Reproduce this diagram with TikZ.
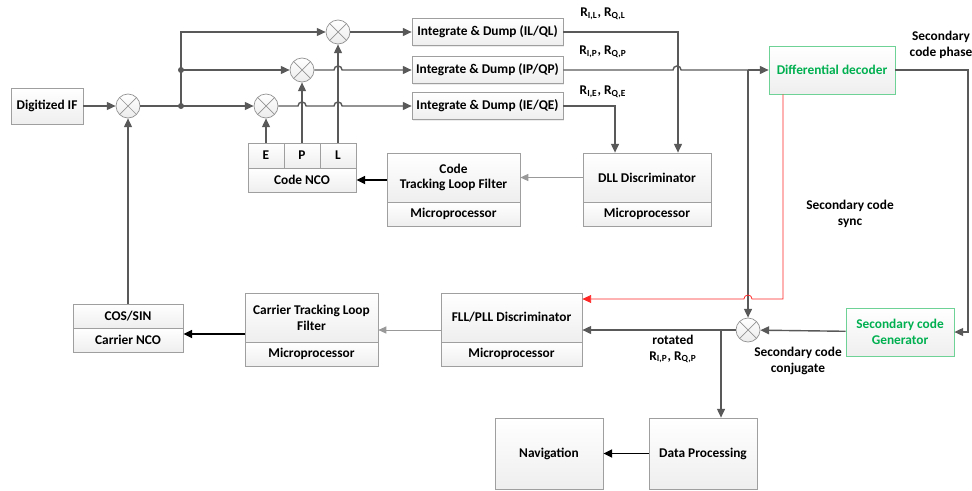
\documentclass[tikz,border=0pt]{standalone}
\usepackage{fontspec}
\setmainfont{Carlito}
\usetikzlibrary{arrows.meta,shadows}
\definecolor{gtext}{RGB}{0,176,80}
\definecolor{gline}{RGB}{110,210,150}
\definecolor{lgray}{RGB}{89,89,89}
\begin{document}
\begin{tikzpicture}[
  x=0.02cm, y=-0.02cm,
  lbl/.style={font=\fontsize{7.6}{9}\selectfont\bfseries, align=center, inner sep=0pt},
  box/.style={lbl, draw=gray!75, top color=white, bottom color=gray!13,
    drop shadow={opacity=0.15, shadow xshift=0.6pt, shadow yshift=-0.6pt}},
  gbox/.style={box, draw=gline, text=gtext},
  mix/.style={circle, draw=gray!85, minimum size=0.48cm, inner sep=0pt,
    top color=white, bottom color=gray!15,
    path picture={\draw[gray!85]
      (path picture bounding box.south west) -- (path picture bounding box.north east)
      (path picture bounding box.north west) -- (path picture bounding box.south east);}},
  arr/.style={-{Triangle[length=5pt, width=4.5pt]}, line width=0.8pt, draw=lgray},
  ln/.style={line width=0.8pt, draw=lgray},
  karr/.style={-{Triangle[length=5pt, width=4.5pt]}, line width=1.1pt, draw=black},
  tarr/.style={-{Triangle[length=4.5pt, width=4pt]}, line width=0.5pt, draw=gray!80, fill=gray!80},
  rarr/.style={-{Triangle[length=5pt, width=4.5pt]}, line width=0.45pt, draw=red!85}
]
\useasboundingbox (0,0) rectangle (972,490);

\node[box, minimum width=1.44cm, minimum height=0.72cm] (dif) at (47,106) {Digitized IF};
\node[mix] (m0) at (128,106) {};
\node[mix] (mL) at (338,32) {};
\node[mix] (mP) at (302,70) {};
\node[mix] (mE) at (266,106) {};

\node[box, minimum width=3.02cm, minimum height=0.54cm] (idL) at (487.5,32) {Integrate \& Dump (IL/QL)};
\node[box, minimum width=3.02cm, minimum height=0.54cm] (idP) at (487.5,70) {Integrate \& Dump (IP/QP)};
\node[box, minimum width=3.02cm, minimum height=0.54cm] (idE) at (487.5,106) {Integrate \& Dump (IE/QE)};

\node[box, minimum width=0.72cm, minimum height=0.5cm] (cE) at (266,155.5) {E};
\node[box, minimum width=0.72cm, minimum height=0.5cm] (cP) at (302,155.5) {P};
\node[box, minimum width=0.72cm, minimum height=0.5cm] (cL) at (338,155.5) {L};
\node[box, minimum width=2.16cm, minimum height=0.48cm] (cnco) at (302,180) {Code NCO};

\node[box, minimum width=2.66cm, minimum height=0.98cm] (cflt) at (453.5,177.5) {Code\\Tracking Loop Filter};
\node[box, minimum width=2.66cm, minimum height=0.48cm] (cfltm) at (453.5,214) {Microprocessor};
\node[box, minimum width=2.56cm, minimum height=0.98cm] (dll) at (647,177.5) {DLL Discriminator};
\node[box, minimum width=2.56cm, minimum height=0.48cm] (dllm) at (647,214) {Microprocessor};

\node[gbox, minimum width=2.52cm, minimum height=0.96cm] (ddec) at (832,70) {Differential decoder};
\node[gbox, minimum width=2.16cm, minimum height=0.96cm] (sgen) at (900,332) {Secondary code\\Generator};
\node[mix] (mS) at (748,330) {};

\node[box, minimum width=2.82cm, minimum height=0.98cm] (fll) at (511.5,317.5) {FLL/PLL Discriminator};
\node[box, minimum width=2.82cm, minimum height=0.48cm] (fllm) at (511.5,354) {Microprocessor};
\node[box, minimum width=2.66cm, minimum height=0.98cm] (crf) at (311.5,317.5) {Carrier Tracking Loop\\Filter};
\node[box, minimum width=2.66cm, minimum height=0.48cm] (crfm) at (311.5,354) {Microprocessor};
\node[box, minimum width=2.2cm, minimum height=0.48cm] (cos) at (128,316) {COS/SIN};
\node[box, minimum width=2.2cm, minimum height=0.48cm] (cnc) at (128,340) {Carrier NCO};

\node[box, minimum width=2.16cm, minimum height=1.42cm] (dp) at (703,453.5) {Data Processing};
\node[box, minimum width=2.16cm, minimum height=1.42cm] (nav) at (549,453.5) {Navigation};

\node[lbl] (rL) at (603,14) {R\textsubscript{I,L}, R\textsubscript{Q,L}};
\node[lbl] (rP) at (603,52) {R\textsubscript{I,P}, R\textsubscript{Q,P}};
\node[lbl] (rE) at (603,92) {R\textsubscript{I,E}, R\textsubscript{Q,E}};
\node[lbl] (scp) at (941,45) {Secondary\\code phase};
\node[lbl] (scs) at (850,214) {Secondary code\\sync};
\node[lbl] (rot) at (673,349) {rotated\\R\textsubscript{I,P}, R\textsubscript{Q,P}};
\node[lbl] (scc) at (798,361) {Secondary code\\conjugate};

\coordinate (jE) at (181,106);
\coordinate (jP) at (181,70);
\coordinate (jS) at (748,70);
\coordinate (rd) at (783,299);
\coordinate (jD) at (721,330);
\coordinate (cA) at (245,334);

\draw[arr] (dif) -- (m0);
\draw[arr] (cos) -- (m0);
\draw[arr] (m0) -- (jE) -- (mE);
\draw[arr] (jE) -- (jP) -- (mP);
\draw[arr] (jP) |- (mL);
\fill[lgray] (jE) circle (1.7pt) (jP) circle (1.7pt);
\draw[arr] (cE) -- (mE);
\draw[arr] (cP) -- (mP);
\draw[arr] (cL) -- (mL);

\draw[arr] (mE) -- (298,106) arc[start angle=180, end angle=0, radius=2.3pt]
  -- (334,106) arc[start angle=180, end angle=0, radius=2.3pt] -- (idE);
\draw[arr] (mP) -- (334,70) arc[start angle=180, end angle=0, radius=2.3pt] -- (idP);
\draw[arr] (mL) -- (idL);

\draw[arr] (idL) -| ([xshift=0.62cm]dll.north);
\draw[arr] (idE) -| ([xshift=-0.64cm]dll.north);
\draw[ln] (idP) -- (673,70) arc[start angle=180, end angle=0, radius=2.3pt] -- (jS);
\draw[arr] (jS) -- (ddec);
\draw[arr] (jS) -- (mS);

\draw[tarr] (dll) -- (cflt);
\draw[karr] (cflt.west |- cnco) -- (cnco);

\draw[rarr] ([xshift=-0.98cm]ddec.south) -- (rd) -- (752,299)
  arc[start angle=0, end angle=180, radius=2.3pt] -- (rd -| fll.east);
\draw[arr] (ddec) -- (968,70) |- (sgen);
\draw[arr] (sgen) -- (mS);
\draw[arr] (mS) -- (mS -| fll.east);
\draw[arr] (jD) -- (jD |- dp.north);

\draw[tarr] (fll.west |- mS) -- (crf.east |- mS);
\draw[karr] (cA) -- (cA -| cnc.east);
\draw[karr] (dp) -- (nav);
\end{tikzpicture}
\end{document}
